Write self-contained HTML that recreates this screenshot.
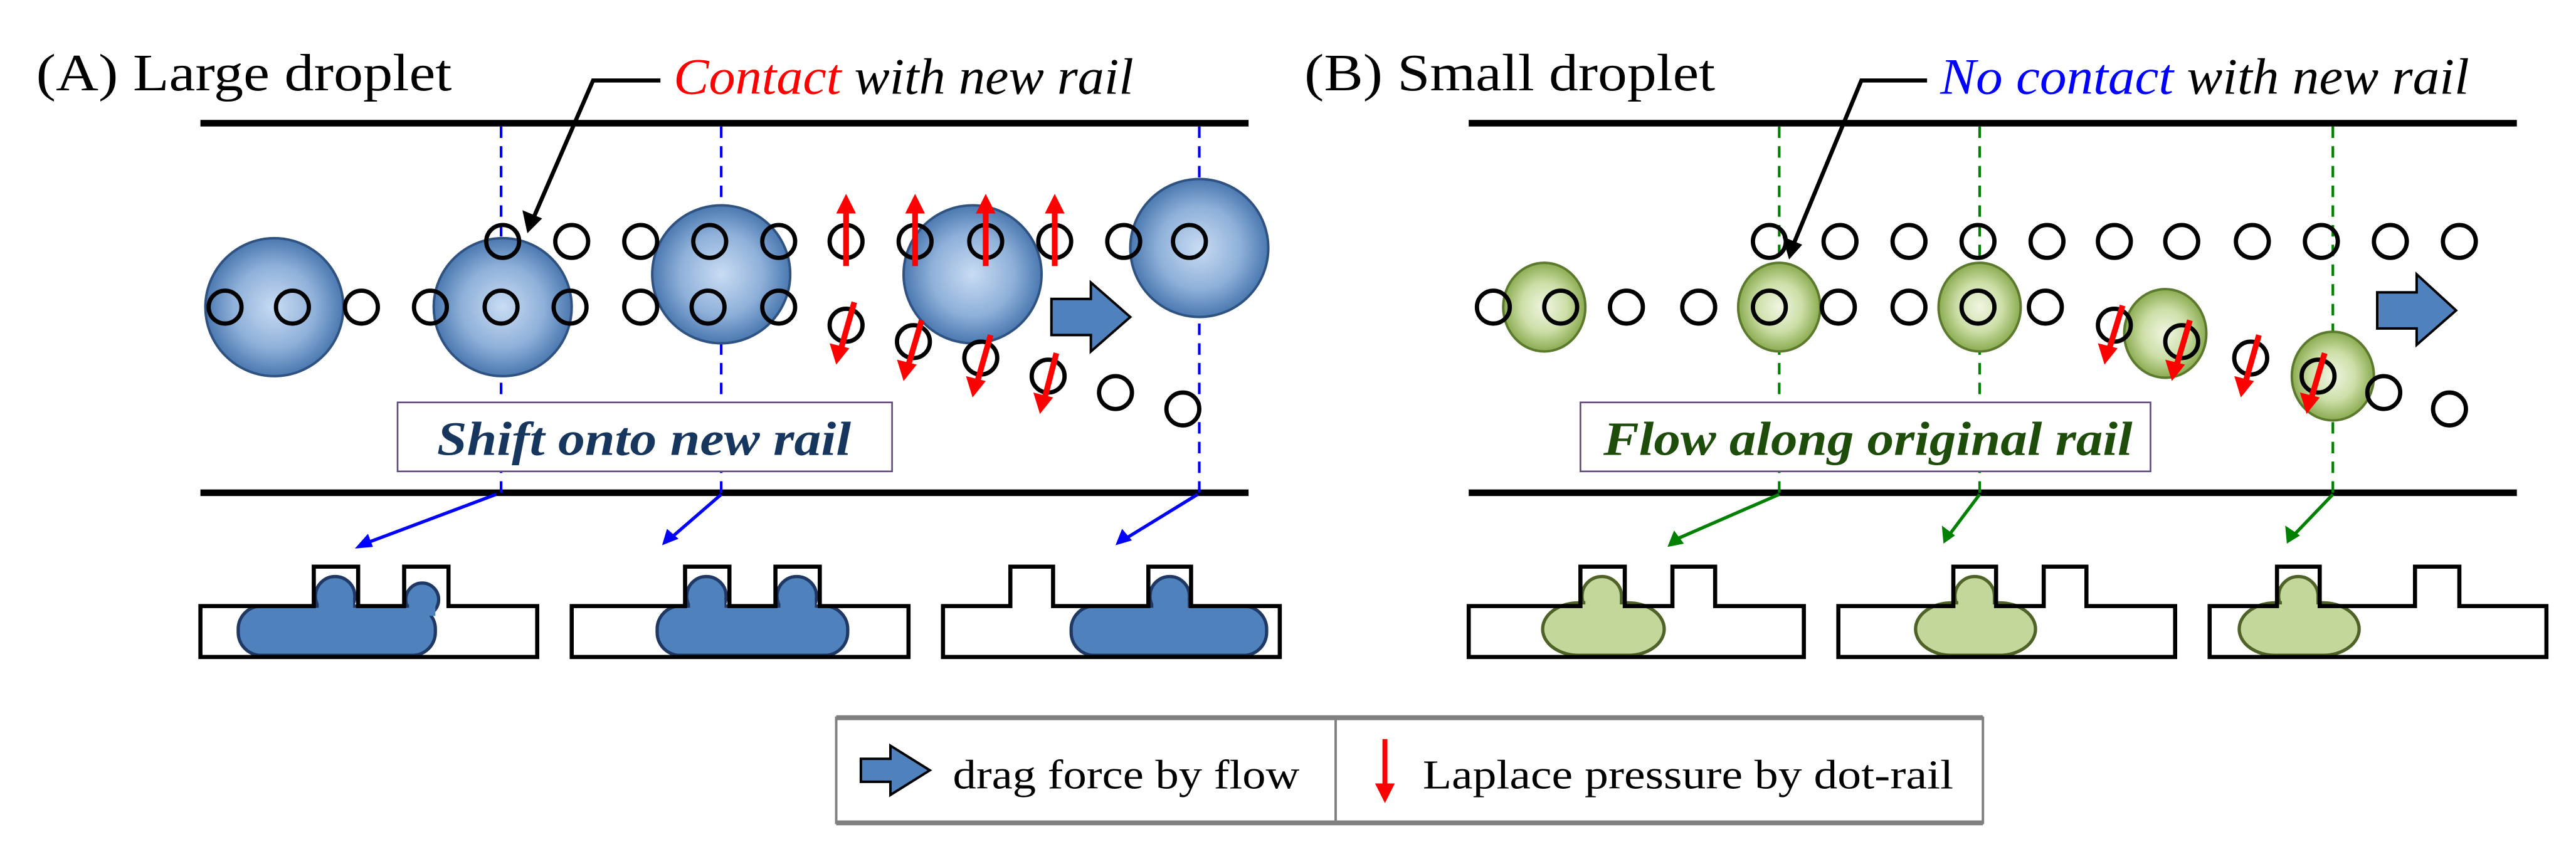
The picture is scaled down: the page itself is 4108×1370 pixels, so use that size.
<!DOCTYPE html>
<html><head><meta charset="utf-8"><style>html,body{margin:0;padding:0;background:#fff}svg{display:block}text{font-family:"Liberation Serif","Times New Roman",serif}</style></head>
<body>
<svg width="4108" height="1370" viewBox="0 0 1568 523" preserveAspectRatio="none" xmlns="http://www.w3.org/2000/svg" style="font-family:'Liberation Serif',serif">
<defs>
<radialGradient id="gb" cx="50%" cy="50%" r="50%"><stop offset="0" stop-color="#c9dcf3"/><stop offset="0.6" stop-color="#8eb0d9"/><stop offset="1" stop-color="#4a78b0"/></radialGradient>
<radialGradient id="gg" cx="50%" cy="50%" r="50%"><stop offset="0" stop-color="#f0f5e2"/><stop offset="0.55" stop-color="#cddfa8"/><stop offset="1" stop-color="#8aab50"/></radialGradient>
</defs>

<text x="22" y="55" font-size="32" textLength="253" lengthAdjust="spacingAndGlyphs">(A) Large droplet</text>
<text x="410" y="57" font-size="31" font-style="italic" textLength="280" lengthAdjust="spacingAndGlyphs"><tspan fill="#ff0000">Contact</tspan> with new rail</text>
<text x="794" y="55" font-size="32" textLength="250" lengthAdjust="spacingAndGlyphs">(B) Small droplet</text>
<text x="1181" y="57" font-size="31" font-style="italic" textLength="322" lengthAdjust="spacingAndGlyphs"><tspan fill="#0000ff">No contact</tspan> with new rail</text>

<g stroke="#000" stroke-width="4">
<line x1="122" y1="75" x2="760" y2="75"/><line x1="122" y1="300" x2="760" y2="300"/>
<line x1="894" y1="75" x2="1532" y2="75"/><line x1="894" y1="300" x2="1532" y2="300"/>
</g>

<g stroke="#0000ff" stroke-width="1.6" stroke-dasharray="7 5">
<line x1="305" y1="77" x2="305" y2="300"/><line x1="439" y1="77" x2="439" y2="300"/><line x1="730" y1="77" x2="730" y2="300"/>
</g>
<g stroke="#008000" stroke-width="1.6" stroke-dasharray="7 5">
<line x1="1083" y1="77" x2="1083" y2="300"/><line x1="1205" y1="77" x2="1205" y2="300"/><line x1="1420" y1="77" x2="1420" y2="300"/>
</g>

<rect x="242" y="245" width="301" height="42" fill="#fff" stroke="#604a7b" stroke-width="1"/>
<text x="266" y="277" font-size="29" font-weight="bold" font-style="italic" fill="#17365d" textLength="252" lengthAdjust="spacingAndGlyphs">Shift onto new rail</text>
<rect x="962" y="245" width="347" height="42" fill="#fff" stroke="#604a7b" stroke-width="1"/>
<text x="976" y="277" font-size="29" font-weight="bold" font-style="italic" fill="#1e4d0b" textLength="322" lengthAdjust="spacingAndGlyphs">Flow along original rail</text>

<g fill="url(#gb)" stroke="#2f5280" stroke-width="1.5">
<circle cx="167" cy="187" r="42"/><circle cx="306" cy="187" r="42"/><circle cx="439" cy="167" r="42"/><circle cx="592" cy="167" r="42"/><circle cx="730" cy="151" r="42"/>
</g>
<g fill="url(#gg)" stroke="#5c7a2e" stroke-width="1.5">
<ellipse cx="940" cy="187" rx="25" ry="27"/><ellipse cx="1083" cy="187" rx="25" ry="27"/><ellipse cx="1205" cy="187" rx="25" ry="27"/><ellipse cx="1318" cy="203" rx="25" ry="27"/><ellipse cx="1420" cy="229" rx="25" ry="27"/>
</g>

<g fill="none" stroke="#000" stroke-width="2.6">
<circle cx="137" cy="187" r="10"/><circle cx="178" cy="187" r="10"/><circle cx="220" cy="187" r="10"/><circle cx="262" cy="187" r="10"/><circle cx="305" cy="187" r="10"/><circle cx="347" cy="187" r="10"/><circle cx="390" cy="187" r="10"/><circle cx="431" cy="187" r="10"/><circle cx="474" cy="187" r="10"/>
<circle cx="306" cy="147" r="10"/><circle cx="348" cy="147" r="10"/><circle cx="390" cy="147" r="10"/><circle cx="432" cy="147" r="10"/><circle cx="474" cy="147" r="10"/><circle cx="515" cy="147" r="10"/><circle cx="557" cy="147" r="10"/><circle cx="600" cy="147" r="10"/><circle cx="642" cy="147" r="10"/><circle cx="684" cy="147" r="10"/><circle cx="724" cy="147" r="10"/>
<circle cx="515" cy="198" r="10"/><circle cx="556" cy="208" r="10"/><circle cx="597" cy="218" r="10"/><circle cx="638" cy="229" r="10"/><circle cx="679" cy="239" r="10"/><circle cx="720" cy="249" r="10"/>
<circle cx="909" cy="187" r="10"/><circle cx="950" cy="187" r="10"/><circle cx="990" cy="187" r="10"/><circle cx="1034" cy="187" r="10"/><circle cx="1077" cy="187" r="10"/><circle cx="1119" cy="187" r="10"/><circle cx="1162" cy="187" r="10"/><circle cx="1204" cy="187" r="10"/><circle cx="1245" cy="187" r="10"/>
<circle cx="1077" cy="147" r="10"/><circle cx="1120" cy="147" r="10"/><circle cx="1162" cy="147" r="10"/><circle cx="1204" cy="147" r="10"/><circle cx="1246" cy="147" r="10"/><circle cx="1287" cy="147" r="10"/><circle cx="1328" cy="147" r="10"/><circle cx="1371" cy="147" r="10"/><circle cx="1413" cy="147" r="10"/><circle cx="1455" cy="147" r="10"/><circle cx="1497" cy="147" r="10"/>
<circle cx="1287" cy="198" r="10"/><circle cx="1328" cy="208" r="10"/><circle cx="1370" cy="218" r="10"/><circle cx="1411" cy="229" r="10"/><circle cx="1451" cy="239" r="10"/><circle cx="1491" cy="249" r="10"/>
</g>

<g stroke="#ff0000" stroke-width="3.5" fill="#ff0000">
<line x1="515" y1="162" x2="515" y2="128"/><polygon stroke="none" points="509,130 521,130 515,118"/>
<line x1="557" y1="162" x2="557" y2="128"/><polygon stroke="none" points="551,130 563,130 557,118"/>
<line x1="600" y1="162" x2="600" y2="128"/><polygon stroke="none" points="594,130 606,130 600,118"/>
<line x1="642" y1="162" x2="642" y2="128"/><polygon stroke="none" points="636,130 648,130 642,118"/>
<line x1="520" y1="184" x2="512" y2="212"/><polygon stroke="none" points="505,209 517,212 509,222"/>
<line x1="561" y1="195" x2="553" y2="222"/><polygon stroke="none" points="546,219 558,222 550,232"/>
<line x1="603" y1="204" x2="595" y2="232"/><polygon stroke="none" points="588,229 600,232 592,242"/>
<line x1="643" y1="215" x2="636" y2="242"/><polygon stroke="none" points="629,239 641,242 633,252"/>
<line x1="1292" y1="186" x2="1284" y2="212"/><polygon stroke="none" points="1277,209 1289,212 1281,222"/>
<line x1="1333" y1="195" x2="1325" y2="222"/><polygon stroke="none" points="1318,219 1330,222 1322,232"/>
<line x1="1375" y1="204" x2="1367" y2="232"/><polygon stroke="none" points="1360,229 1372,232 1364,242"/>
<line x1="1415" y1="215" x2="1407" y2="242"/><polygon stroke="none" points="1400,239 1412,242 1404,252"/>
</g>

<polygon points="640,182 664,182 664,172 688,193 664,214 664,204 640,204" fill="#4f81bd" stroke="#000" stroke-width="1.5"/>
<polygon points="1447,178 1471,178 1471,167 1495,189 1471,210 1471,200 1447,200" fill="#4f81bd" stroke="#000" stroke-width="1.5"/>

<g stroke="#000" stroke-width="2.5" fill="none">
<polyline points="402,49 361,49 325,132"/>
<polyline points="1173,49 1133,49 1092,148"/>
</g>
<polygon points="318,128 330,133 321,142" fill="#000"/>
<polygon points="1085,144 1097,149 1089,158" fill="#000"/>

<g stroke="#0000ff" stroke-width="2">
<line x1="302" y1="301" x2="222" y2="331"/><line x1="439" y1="301" x2="409" y2="327"/><line x1="729" y1="301" x2="685" y2="328"/>
</g>
<g fill="#0000ff">
<polygon points="216,334 224,325 227,333"/><polygon points="403,332 406,322 413,328"/><polygon points="679,332 683,322 689,329"/>
</g>
<g stroke="#008000" stroke-width="2">
<line x1="1083" y1="301" x2="1021" y2="328"/><line x1="1205" y1="301" x2="1187" y2="325"/><line x1="1420" y1="301" x2="1397" y2="325"/>
</g>
<g fill="#008000">
<polygon points="1015,333 1019,323 1025,331"/><polygon points="1183,331 1182,320 1190,326"/><polygon points="1392,331 1391,320 1400,326"/>
</g>

<g fill="#4f81bd" stroke="#1f3864" stroke-width="2">
<circle cx="204" cy="363" r="12"/><circle cx="257" cy="365" r="10"/><rect x="145" y="369" width="120" height="30" rx="14"/>
<circle cx="430" cy="363" r="12"/><circle cx="485" cy="363" r="12"/><rect x="400" y="369" width="116" height="30" rx="14"/>
<circle cx="712" cy="363" r="12"/><rect x="652" y="369" width="119" height="30" rx="14"/>
</g>
<g fill="#4f81bd">
<rect x="194" y="365" width="21" height="10"/><rect x="249" y="367" width="16" height="8"/>
<rect x="420" y="365" width="21" height="10"/><rect x="475" y="365" width="21" height="10"/>
<rect x="702" y="365" width="21" height="10"/>
</g>
<g fill="#c4d79b" stroke="#4f6228" stroke-width="2">
<circle cx="975" cy="363" r="12"/><rect x="939" y="367" width="74" height="32" rx="22"/>
<circle cx="1202" cy="363" r="12"/><rect x="1166" y="367" width="73" height="32" rx="22"/>
<circle cx="1399" cy="363" r="12"/><rect x="1363" y="367" width="73" height="32" rx="22"/>
</g>
<g fill="#c4d79b">
<rect x="965" y="364" width="21" height="12"/><rect x="1192" y="364" width="21" height="12"/><rect x="1389" y="364" width="21" height="12"/>
</g>

<g fill="none" stroke="#000" stroke-width="2.5">
<path d="M122 369 H191 V345 H218 V369 H246 V345 H273 V369 H327 V400 H122 Z"/>
<path d="M348 369 H417 V345 H444 V369 H472 V345 H499 V369 H553 V400 H348 Z"/>
<path d="M574 369 H615 V345 H641 V369 H699 V345 H725 V369 H779 V400 H574 Z"/>
<path d="M894 369 H962 V345 H989 V369 H1018 V345 H1044 V369 H1098 V400 H894 Z"/>
<path d="M1119 369 H1189 V345 H1215 V369 H1244 V345 H1270 V369 H1324 V400 H1119 Z"/>
<path d="M1345 369 H1386 V345 H1412 V369 H1470 V345 H1497 V369 H1550 V400 H1345 Z"/>
</g>

<rect x="509" y="437" width="698" height="64" fill="#fff" stroke="#808080" stroke-width="1.5"/>
<line x1="509" y1="437" x2="1207" y2="437" stroke="#808080" stroke-width="3"/>
<line x1="509" y1="501" x2="1207" y2="501" stroke="#808080" stroke-width="3"/>
<line x1="813" y1="437" x2="813" y2="501" stroke="#808080" stroke-width="1.5"/>
<polygon points="524,462 542,462 542,454 566,469 542,484 542,476 524,476" fill="#4f81bd" stroke="#000" stroke-width="1.5"/>
<text x="580" y="480" font-size="25" textLength="211" lengthAdjust="spacingAndGlyphs">drag force by flow</text>
<line x1="843" y1="450" x2="843" y2="478" stroke="#ff0000" stroke-width="3"/>
<polygon points="837,477 849,477 843,489" fill="#ff0000"/>
<text x="866" y="480" font-size="25" textLength="323" lengthAdjust="spacingAndGlyphs">Laplace pressure by dot-rail</text>
</svg>
</body></html>
